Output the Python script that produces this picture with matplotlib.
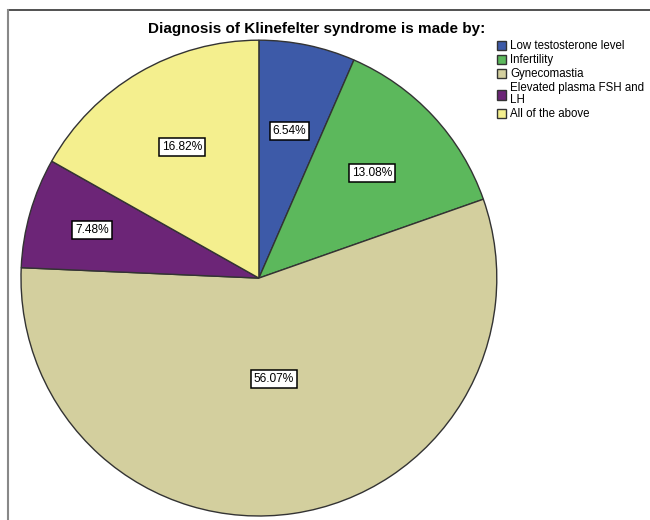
import matplotlib.pyplot as plt
from matplotlib.lines import Line2D
import numpy as np

plt.rcParams['font.family'] = ['Liberation Sans', 'DejaVu Sans']

labels = ["Low testosterone level", "Infertility", "Gynecomastia",
          "Elevated plasma FSH and\nLH", "All of the above"]
shares = [6.54, 13.08, 56.07, 7.48, 16.82]
colors = ["#3d5aa8", "#5cb85c", "#d3cf9e", "#6c2577", "#f4ef8e"]
# how far out each percentage box sits, as a fraction of the radius
label_r = [0.63, 0.65, 0.43, 0.73, 0.64]

fig = plt.figure(figsize=(6.5, 5.2), dpi=100)
ax = fig.add_axes([0.0323, 0.0077, 0.732, 0.915])

wedges, _ = ax.pie(shares, colors=colors, startangle=90, counterclock=False,
                   wedgeprops=dict(edgecolor="#333333", linewidth=1.0))
ax.set_xlim(-1, 1)
ax.set_ylim(-1, 1)
ax.set_aspect("equal")

for w, v, r in zip(wedges, shares, label_r):
    mid = np.deg2rad((w.theta1 + w.theta2) / 2)
    ax.text(r * np.cos(mid), r * np.sin(mid), "%.2f%%" % v,
            ha="center", va="center", fontsize=8.6,
            bbox=dict(boxstyle="square,pad=0.25", fc="white", ec="black", lw=1.1))

fig.suptitle("Diagnosis of Klinefelter syndrome is made by:",
             x=0.487, y=0.958, fontsize=11, fontweight="bold")

leg = fig.legend(wedges, labels, loc="upper left", bbox_to_anchor=(0.757, 0.931),
                 frameon=False, fontsize=8.3, handlelength=0.85, handleheight=0.9,
                 handletextpad=0.3, labelspacing=0.17, borderaxespad=0)
for t in leg.get_texts():
    t.set_linespacing(1.0)

# frame lines along the top and left edge
fig.add_artist(Line2D([8 / 650, 1], [1 - 10 / 520] * 2, color="#333333", lw=1.2))
fig.add_artist(Line2D([8 / 650] * 2, [0, 1 - 10 / 520], color="#888888", lw=1.5))

fig.savefig("out.png", dpi=100)
